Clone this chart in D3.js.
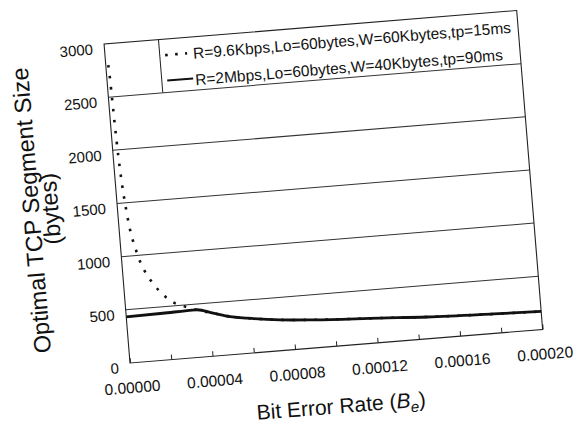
<!DOCTYPE html>
<html>
<head>
<meta charset="utf-8">
<script src="https://cdn.jsdelivr.net/npm/d3@7"></script>
<style>
  body { margin: 0; background: #fff; }
  text { font-family: 'Liberation Sans', Arial, Helvetica, sans-serif; fill: #111; }
</style>
</head>
<body>
<div class="chart"></div>
<script>
// data
var berSlow = [1.2e-6, 1.45e-6, 1.74e-6, 1.98e-6, 2.27e-6, 2.7e-6, 3.24e-6, 4.15e-6, 5.3e-6, 6.3e-6, 7.5e-6, 9.0e-6,
    1.08e-5, 1.36e-5, 1.65e-5, 1.99e-5, 2.35e-5, 2.79e-5, 3.4e-5, 4.2e-5, 5.0e-5, 5.8e-5, 7.4e-5, 9.0e-5,
    1.22e-4, 1.45e-4, 1.77e-4, 2.0e-4];
var sizeSlow = [2800, 2707, 2470, 2266, 2063, 1842, 1653, 1439, 1236, 1131, 1035, 929,
    842, 743, 661, 587, 530, 492, 447, 402, 357, 330, 289, 264,
    230, 204, 182, 169];
var berFast = [0, 1.77e-5, 3.4e-5, 4.2e-5, 5.0e-5, 5.8e-5, 7.4e-5, 9.0e-5, 1.22e-4, 1.45e-4, 1.77e-4, 2.0e-4];
var sizeFast = [433, 440, 447, 402, 357, 330, 289, 264, 230, 204, 182, 169];
var legendLabels = ['R=9.6Kbps,Lo=60bytes,W=60Kbytes,tp=15ms', 'R=2Mbps,Lo=60bytes,W=40Kbytes,tp=90ms'];
var xTicks = [0, 0.00004, 0.00008, 0.00012, 0.00016, 0.0002];
var xMinor = [0, 0.00002, 0.00004, 0.00006, 0.00008, 0.0001, 0.00012, 0.00014, 0.00016, 0.00018, 0.0002];
var yTicks = [0, 500, 1000, 1500, 2000, 2500, 3000];

// graph bounds
var svgWidth = 577;
var svgHeight = 423;
var margin = {top: 43, left: 130};
var width = 414;
var height = 320;

var svg = d3.select('.chart')
    .append('svg')
    .attr('width', svgWidth)
    .attr('height', svgHeight);
svg.append('rect').attr('width', svgWidth).attr('height', svgHeight).attr('fill', '#fff');

// the scanned figure is tilted a few degrees
var chart = svg.append('g')
    .attr('transform', 'rotate(-4.65,' + margin.left + ',' + (margin.top + height) + ') translate(' + margin.left + ',' + margin.top + ')');

var x = d3.scaleLinear().domain([0, 0.0002]).range([0, width]);
var y = d3.scaleLinear().domain([0, 3000]).range([height, 0]);

// grid lines
chart.selectAll('.grid')
    .data(yTicks.slice(1, -1))
    .enter()
    .append('line')
    .attr('x1', 0)
    .attr('x2', width)
    .attr('y1', function(d) { return y(d); })
    .attr('y2', function(d) { return y(d); })
    .attr('stroke', '#333')
    .attr('stroke-width', 1);

// frame
chart.append('rect')
    .attr('width', width)
    .attr('height', height)
    .attr('fill', 'none')
    .attr('stroke', '#222')
    .attr('stroke-width', 1.1);

// inward ticks on the x axis
var minorAxis = chart.append('g')
    .attr('transform', 'translate(0,' + height + ')')
    .call(d3.axisBottom(x).tickValues(xMinor).tickSize(-5).tickFormat(''));
minorAxis.select('.domain').remove();
minorAxis.selectAll('line').attr('stroke', '#222');

// x tick labels
var xAxis = chart.append('g')
    .attr('transform', 'translate(0,' + height + ')')
    .call(d3.axisBottom(x).tickValues(xTicks).tickSize(0).tickPadding(19).tickFormat(d3.format('.5f')));
xAxis.select('.domain').remove();
xAxis.selectAll('text').style('font-size', '15.5px').attr('fill', '#111');

// y tick labels
var yAxis = chart.append('g')
    .call(d3.axisLeft(y).tickValues(yTicks).tickSize(0).tickPadding(11.5).tickFormat(d3.format('d')));
yAxis.select('.domain').remove();
yAxis.selectAll('text').style('font-size', '15px').attr('dy', '0.6em').attr('fill', '#111');

// lines
var slowLine = d3.line()
    .x(function(d, i) { return x(berSlow[i]); })
    .y(function(d) { return y(d); })
    .curve(d3.curveMonotoneX);
var fastLine = d3.line()
    .x(function(d, i) { return x(berFast[i]); })
    .y(function(d) { return y(d); })
    .curve(d3.curveMonotoneX);

chart.append('path')
    .attr('d', slowLine(sizeSlow))
    .attr('fill', 'none')
    .attr('stroke', '#111')
    .attr('stroke-width', 2.6)
    .attr('stroke-dasharray', '2.6,8.4');

chart.append('path')
    .attr('d', fastLine(sizeFast))
    .attr('fill', 'none')
    .attr('stroke', '#111')
    .attr('stroke-width', 2.8);

// legend box
var legend = chart.append('g');
legend.append('line')
    .attr('x1', 54.6).attr('x2', 54.6)
    .attr('y1', 0).attr('y2', y(2500))
    .attr('stroke', '#222');

legend.append('line')
    .attr('x1', 60).attr('x2', 82)
    .attr('y1', 16).attr('y2', 16)
    .attr('stroke', '#111')
    .attr('stroke-width', 2.6)
    .attr('stroke-dasharray', '2.6,7.4');
legend.append('line')
    .attr('x1', 60).attr('x2', 86)
    .attr('y1', 41.5).attr('y2', 41.5)
    .attr('stroke', '#111')
    .attr('stroke-width', 2);

legend.selectAll('.lab')
    .data(legendLabels)
    .enter()
    .append('text')
    .attr('x', 88)
    .attr('y', function(d, i) { return 21.8 + i * 26.6; })
    .style('font-size', '15.5px')
    .text(function(d) { return d; });

// y axis label
chart.append('text')
    .attr('transform', 'rotate(-90)')
    .attr('x', -height / 2)
    .attr('y', -78)
    .attr('text-anchor', 'middle')
    .style('font-size', '23.5px')
    .text('Optimal TCP Segment Size');
chart.append('text')
    .attr('transform', 'rotate(-90)')
    .attr('x', -height / 2)
    .attr('y', -59)
    .attr('text-anchor', 'middle')
    .style('font-size', '23.5px')
    .text('(bytes)');

// x axis label
var xLabel = chart.append('text')
    .attr('x', width / 2)
    .attr('y', height + 67)
    .attr('text-anchor', 'middle')
    .style('font-size', '21px');
xLabel.append('tspan').text('Bit Error Rate (');
xLabel.append('tspan').style('font-style', 'italic').text('B');
xLabel.append('tspan').style('font-style', 'italic').style('font-size', '15px').attr('dy', 5).text('e');
xLabel.append('tspan').attr('dy', -5).text(')');
</script>
</body>
</html>
